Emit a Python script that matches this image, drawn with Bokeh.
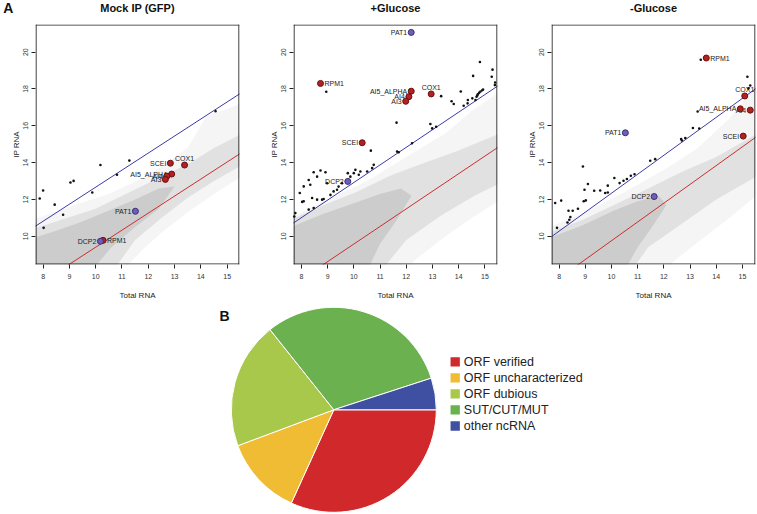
from bokeh.plotting import figure
from bokeh.layouts import column, row
from bokeh.models import FixedTicker, Range1d, LabelSet, ColumnDataSource
from bokeh.embed import file_html
from bokeh.resources import INLINE
from bokeh.core.properties import value
import math

FONT = "Liberation Sans"

# ---------------- data ----------------
panel_titles = ["Mock IP (GFP)", "+Glucose", "-Glucose"]
x_ticks = [8, 9, 10, 11, 12, 13, 14, 15]
y_ticks = [10, 12, 14, 16, 18, 20]
x_ranges = [(7.71, 15.47), (7.70, 15.48), (7.71, 15.50)]
y_range = (8.47, 21.50)

# threshold lines (slope, intercept)
blue_slope = [0.925, 0.955, 1.03]
blue_intercept = [3.42, 3.37, 2.04]
red_slope = [0.925, 0.955, 1.02]
red_intercept = [0.16, 0.03, -0.44]

# black (significant) points
mock_black_x = [7.87, 8.00, 8.02, 8.44, 8.76, 9.04, 9.16, 9.87, 10.18, 10.81, 11.28, 14.56]
mock_black_y = [12.05, 12.49, 10.46, 11.72, 11.17, 12.92, 13.01, 12.38, 13.87, 13.34, 14.11, 16.79]

plus_black_x = [8.95, 14.81, 14.55, 15.29, 15.26, 15.39, 14.08, 13.33, 13.73, 13.81, 14.19, 14.34,
                14.35, 14.52, 14.64, 14.68, 14.73, 14.78, 14.83, 14.90, 14.93, 14.71, 11.63, 12.92,
                12.99, 13.14, 15.38, 12.22, 11.65, 10.65, 11.71, 10.76, 10.70, 10.51, 10.25, 10.19,
                10.06, 10.00, 9.87, 9.77, 9.55, 9.42, 9.36, 9.23, 9.11, 8.92, 8.73, 8.47, 8.60,
                8.28, 8.34, 7.94, 8.09, 8.03, 8.41, 8.60, 8.79, 8.85, 8.47, 8.28, 7.77, 7.73, 8.09, 8.98]
plus_black_y = [17.85, 19.46, 18.71, 19.05, 18.66, 18.35, 17.86, 17.61, 17.33, 17.18, 17.09, 17.22,
                17.40, 17.49, 17.40, 17.58, 17.71, 17.79, 17.86, 17.93, 17.97, 17.65, 16.17, 16.10,
                15.86, 15.95, 18.21, 15.05, 14.60, 14.65, 14.56, 13.88, 13.70, 13.52, 13.52, 13.34,
                13.61, 13.43, 13.24, 13.43, 12.88, 12.70, 12.53, 12.44, 12.25, 13.48, 13.57, 13.48, 13.24,
                13.06, 12.80, 12.35, 11.90, 11.87, 12.08, 11.99, 11.99, 12.03, 11.54, 11.45, 11.26, 11.08, 12.71, 12.88]

minus_black_x = [13.41, 15.19, 15.30, 15.23, 13.29, 13.11, 13.35, 12.66, 12.82, 8.91, 7.85, 8.08,
                 7.92, 8.36, 8.52, 8.72, 8.43, 8.39, 8.32, 8.94, 9.02, 8.97, 9.10, 9.34, 9.57, 9.76,
                 9.86, 9.86, 10.11, 10.31, 10.46, 10.59, 10.74, 10.88, 11.48, 11.67, 12.69]
minus_black_y = [19.59, 18.66, 18.19, 18.03, 16.78, 15.88, 15.85, 15.28, 15.34, 13.79, 11.81, 11.94,
                 10.46, 11.39, 11.39, 11.50, 11.05, 10.90, 10.75, 11.90, 11.95, 12.53, 12.84, 12.47, 12.49, 12.35,
                 12.38, 12.75, 13.17, 12.89, 13.02, 13.11, 13.29, 13.37, 14.10, 14.19, 15.20]

# highlighted genes
mock_genes = ["SCEI", "COX1", "AI5_ALPHA", "AI4", "AI3", "RPM1", "PAT1", "DCP2"]
mock_gene_x = [12.84, 13.38, 12.89, 12.71, 12.65, 10.28, 11.51, 10.18]
mock_gene_y = [13.97, 13.87, 13.38, 13.27, 13.09, 9.78, 11.36, 9.73]

plus_genes = ["PAT1", "RPM1", "AI5_ALPHA", "AI4", "AI3", "COX1", "SCEI", "DCP2"]
plus_gene_x = [12.19, 8.73, 12.19, 12.10, 11.98, 12.95, 10.32, 9.77]
plus_gene_y = [21.07, 18.30, 17.88, 17.58, 17.33, 17.73, 15.08, 12.98]

minus_genes = ["RPM1", "COX1", "AI5_ALPHA", "AI4", "SCEI", "PAT1", "DCP2"]
minus_gene_x = [13.62, 15.09, 14.92, 15.30, 15.03, 10.53, 11.63]
minus_gene_y = [19.68, 17.62, 16.92, 16.85, 15.44, 15.62, 12.16]

# grey background cloud of all transcripts (outline of dense / medium / sparse zones)
mock_core = [(7.6, 8.4), (7.6, 9.9), (8.5, 10.3), (9.5, 10.8), (10.5, 11.4), (11.5, 12.0), (12.4, 12.6),
             (13.0, 12.7), (12.4, 11.5), (11.5, 10.5), (10.6, 9.4), (10.0, 8.4)]
mock_mid = [(7.6, 8.4), (7.6, 10.4), (8.7, 10.9), (10.0, 11.5), (11.3, 12.4), (12.6, 13.3), (13.6, 14.0),
            (14.5, 14.8), (15.6, 15.6), (15.6, 13.9), (14.5, 13.0), (13.5, 12.1), (12.5, 11.0), (11.5, 9.8), (10.8, 8.4)]
mock_halo = [(7.6, 8.4), (7.6, 10.9), (9.0, 11.6), (10.5, 12.3), (12.0, 13.3), (13.5, 14.8), (14.2, 16.5),
             (15.0, 16.9), (15.6, 17.3), (15.6, 13.3), (14.5, 12.3), (13.5, 11.3), (12.5, 10.2), (11.8, 9.3), (11.2, 8.4)]
plus_core = [(7.6, 8.4), (7.6, 10.5), (8.8, 11.2), (10.0, 11.8), (11.0, 12.3), (11.8, 12.6), (12.2, 12.2),
             (11.6, 10.8), (11.0, 9.6), (10.6, 8.4)]
plus_mid = [(7.6, 8.4), (7.6, 10.9), (8.85, 11.7), (10.1, 12.4), (11.4, 13.3), (12.7, 14.0), (13.9, 14.6),
            (15.6, 15.6), (15.6, 12.9), (14.6, 12.2), (13.3, 11.1), (12.0, 9.8), (11.2, 8.4)]
plus_halo = [(7.6, 8.4), (7.6, 11.0), (9.0, 12.0), (10.5, 13.0), (12.0, 14.3), (13.5, 15.6), (14.5, 16.8),
             (15.6, 17.9), (15.6, 12.0), (14.5, 11.0), (13.5, 10.0), (12.5, 8.9), (12.1, 8.4)]
minus_core = [(7.6, 8.4), (7.6, 9.9), (8.9, 10.6), (10.1, 11.4), (11.0, 11.9), (11.8, 12.2), (12.1, 11.7),
              (11.5, 10.4), (11.0, 9.4), (10.6, 8.4)]
minus_mid = [(7.6, 8.4), (7.6, 10.2), (8.9, 10.9), (10.1, 11.7), (11.4, 12.6), (12.7, 13.5), (14.0, 14.3),
             (15.6, 15.6), (15.6, 13.3), (14.0, 12.0), (12.7, 10.7), (11.4, 9.4), (10.9, 8.4)]
minus_halo = [(7.6, 8.4), (7.6, 10.5), (9.0, 11.3), (10.5, 12.4), (12.0, 13.6), (13.3, 14.8), (14.5, 16.4),
              (15.2, 17.6), (15.6, 18.3), (15.6, 12.3), (14.5, 11.0), (13.5, 9.9), (12.6, 8.9), (12.2, 8.4)]

# pie (part B)
pie_labels = ["ORF verified", "ORF uncharacterized", "ORF dubious", "SUT/CUT/MUT", "other ncRNA"]
pie_values = [31.8, 12.5, 20.0, 30.7, 5.0]
pie_colors = ["#D1282C", "#F0BC33", "#A8C84C", "#6BB14F", "#3F50A3"]

# ---------------- styling ----------------
RED_PT = "#B22222"
PURPLE_PT = "#6F5FB8"
red_genes = {"SCEI", "COX1", "AI5_ALPHA", "AI4", "AI3", "RPM1"}
label_side = {"SCEI": "left", "COX1": "above", "AI5_ALPHA": "left", "AI4": "left",
              "AI3": "left", "RPM1": "right", "PAT1": "left", "DCP2": "left"}

TOTAL_W = 756
HEAD_H = 22
TOP_H = 280
PIE_H = 211
B_TOP, B_BOT, B_LEFT = 2, 37, 35
FRAME_W = 204
widths = [258, 258, 240]
right_borders = [w - B_LEFT - FRAME_W for w in widths]
frame_h = TOP_H - B_TOP - B_BOT


def xy(poly):
    return [a for a, b in poly], [b for a, b in poly]


def make_panel(i, core, mid, halo, bx, by, genes, gx, gy):
    x0, x1 = x_ranges[i]
    y0, y1 = y_range
    p = figure(width=widths[i], height=TOP_H, output_backend="svg", toolbar_location=None,
               x_range=Range1d(x0, x1), y_range=Range1d(y0, y1),
               min_border_left=B_LEFT, min_border_right=right_borders[i],
               min_border_top=B_TOP, min_border_bottom=B_BOT)
    p.grid.visible = False
    p.outline_line_color = None

    # cloud (sparse -> dense)
    for poly, alpha in ((halo, 0.15), (mid, 0.35), (core, 0.6)):
        px_, py_ = xy(poly)
        p.patch(px_, py_, fill_color="#BEBEBE", fill_alpha=alpha, line_color=None)

    # threshold lines
    lx = [x0 - 1, x1 + 1]
    p.line(lx, [blue_intercept[i] + blue_slope[i] * v for v in lx], line_color="#3B3BA8", line_width=1)
    p.line(lx, [red_intercept[i] + red_slope[i] * v for v in lx], line_color="#CC2E2E", line_width=1)

    # plot box as thin filled strips just inside the frame
    bw_x = 1.1 * (x1 - x0) / FRAME_W
    bw_y = 1.1 * (y1 - y0) / frame_h
    p.quad(left=[x0, x1 - bw_x, x0, x0], right=[x0 + bw_x, x1, x1, x1],
           bottom=[y0, y0, y0, y1 - bw_y], top=[y1, y1, y0 + bw_y, y1],
           fill_color="#222222", line_color=None)

    # gene labels
    for side, align, base, xo, yo in [("left", "right", "middle", -4, 0),
                                      ("right", "left", "middle", 4, 0),
                                      ("above", "center", "bottom", 0, 3)]:
        idx = [k for k, g in enumerate(genes) if label_side[g] == side]
        if not idx:
            continue
        src = ColumnDataSource(dict(x=[gx[k] for k in idx], y=[gy[k] for k in idx],
                                    t=[genes[k] for k in idx]))
        p.add_layout(LabelSet(x="x", y="y", text="t", source=src, x_offset=xo, y_offset=yo,
                              text_font=value(FONT), text_font_size=value("7px"),
                              text_color=value("#222222"), text_align=value(align),
                              text_baseline=value(base)))

    # points drawn last (after axes) as circles with screen radius
    p.circle(bx, by, radius=1.3, radius_units="screen", fill_color="#111111", line_color=None,
             level="overlay")
    cols = [RED_PT if g in red_genes else PURPLE_PT for g in genes]
    lines = ["#6A1010" if g in red_genes else "#3A2D78" for g in genes]
    p.circle(gx, gy, radius=3, radius_units="screen", fill_color=cols, line_color=lines,
             line_width=1, level="overlay")

    # axes
    for ax, ticks in ((p.xaxis, x_ticks), (p.yaxis, y_ticks)):
        ax.ticker = FixedTicker(ticks=ticks)
        ax.axis_line_color = None
        ax.major_tick_in = 0
        ax.major_tick_out = 4
        ax.major_tick_line_color = "#222222"
        ax.major_tick_line_width = 1
        ax.minor_tick_line_color = None
        ax.major_label_text_font = FONT
        ax.major_label_text_font_size = "7px"
        ax.major_label_text_color = "#333333"
        ax.axis_label_text_font = FONT
        ax.axis_label_text_font_size = "8px"
        ax.axis_label_text_font_style = "normal"
        ax.axis_label_text_color = "#222222"
    p.xaxis.axis_label = "Total RNA"
    p.xaxis.major_label_standoff = 5
    p.xaxis.axis_label_standoff = 9
    p.yaxis.axis_label = "IP RNA"
    p.yaxis.major_label_orientation = "vertical"
    p.yaxis.major_label_standoff = 3
    p.yaxis.axis_label_standoff = 0
    return p


p1 = make_panel(0, mock_core, mock_mid, mock_halo, mock_black_x, mock_black_y,
                mock_genes, mock_gene_x, mock_gene_y)
p2 = make_panel(1, plus_core, plus_mid, plus_halo, plus_black_x, plus_black_y,
                plus_genes, plus_gene_x, plus_gene_y)
p3 = make_panel(2, minus_core, minus_mid, minus_halo, minus_black_x, minus_black_y,
                minus_genes, minus_gene_x, minus_gene_y)

# ---------------- header with panel titles ----------------
head = figure(width=TOTAL_W, height=HEAD_H, output_backend="svg", toolbar_location=None,
              x_range=Range1d(0, TOTAL_W), y_range=Range1d(0, HEAD_H),
              x_axis_location=None, y_axis_location=None, min_border=0)
head.grid.visible = False
head.outline_line_color = None
title_x = [sum(widths[:k]) + B_LEFT + FRAME_W / 2 for k in range(3)]
head.text(title_x, [HEAD_H - 7.8] * 3, text=panel_titles, text_font=value(FONT), text_font_size="11px",
          text_font_style="bold", text_color="#111111", text_align="center", text_baseline="middle")
head.text([7.7], [HEAD_H - 7.2], text=["A"], text_font=value(FONT), text_font_size="14px",
          text_font_style="bold", text_color="#111111", text_align="center", text_baseline="middle")

# ---------------- pie ----------------
pp = figure(width=TOTAL_W, height=PIE_H, output_backend="svg", toolbar_location=None,
            x_range=Range1d(0, TOTAL_W), y_range=Range1d(0, PIE_H),
            x_axis_location=None, y_axis_location=None, min_border=0)
pp.grid.visible = False
pp.outline_line_color = None

total = sum(pie_values)
pcx, pcy, pr = 333.3, 103.7, 102.5
starts, ends = [], []
cum = 0.0
for v in pie_values:
    a0 = -2 * math.pi * cum / total
    cum += v
    a1 = -2 * math.pi * cum / total
    starts.append(a1)
    ends.append(a0)
pp.wedge(x=[pcx] * len(pie_values), y=[pcy] * len(pie_values), radius=pr,
         start_angle=starts, end_angle=ends, direction="anticlock",
         fill_color=pie_colors, line_color="white", line_width=1)

leg_x, leg_top, leg_step = 454.7, 151.7, 16.05
leg_y = [leg_top - k * leg_step for k in range(len(pie_labels))]
pp.rect([leg_x] * len(pie_labels), leg_y, width=9.3, height=9.3, fill_color=pie_colors, line_color=None)
pp.text([leg_x + 8.6] * len(pie_labels), leg_y, text=pie_labels, text_font=value(FONT),
        text_font_size="12.5px", text_color="#222222", text_align="left", text_baseline="middle")
pp.text([224], [PIE_H - 13.3], text=["B"], text_font=value(FONT), text_font_size="14px",
        text_font_style="bold", text_color="#111111", text_align="center", text_baseline="middle")

layout = column(head, row(p1, p2, p3), pp)
open("out.html", "w").write(file_html(layout, INLINE))
